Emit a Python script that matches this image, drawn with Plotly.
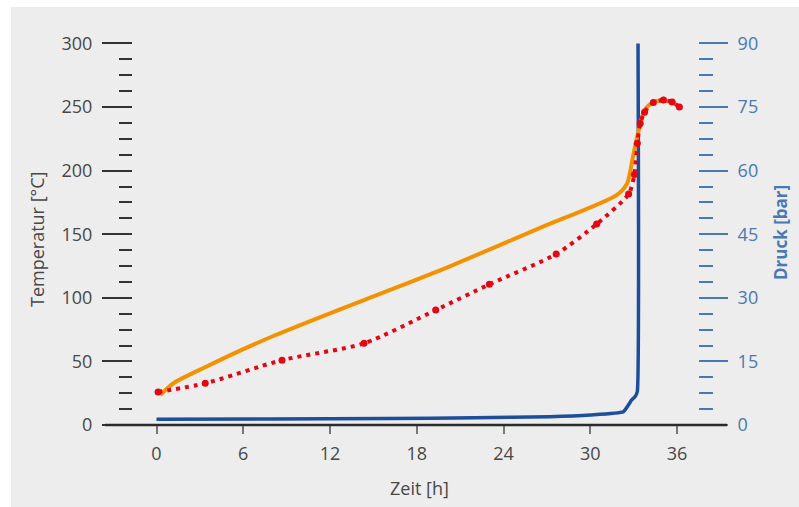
import plotly.graph_objects as go

# Time axis [h]
x_ticks = [0, 6, 12, 18, 24, 30, 36]
temp_ticks = [0, 50, 100, 150, 200, 250, 300]
press_ticks = [0, 15, 30, 45, 60, 75, 90]

# Temperature, solid orange curve
t_orange = [0.26, 1.16, 3.47, 5.78, 8.08, 12.70, 16.11, 20.12, 26.53, 31.85,
            32.55, 32.95, 33.35, 33.75, 34.36, 35.06, 35.66, 36.16]
temp_orange = [23.6, 32.8, 46.0, 58.5, 70.0, 91.0, 106.0, 124.0, 155.0, 181.0,
               190.0, 211.0, 232.0, 247.6, 254.0, 255.0, 253.7, 250.0]

# Temperature, dotted red curve (measured points)
t_red = [0.11, 3.37, 8.68, 14.35, 19.31, 23.02, 27.64, 30.44, 32.65, 33.05,
         33.25, 33.45, 33.75, 34.36, 35.06, 35.66, 36.16]
temp_red = [26.0, 32.8, 51.0, 64.2, 90.4, 110.6, 134.4, 158.0, 181.6, 197.0,
            221.5, 237.0, 246.0, 253.5, 255.5, 254.0, 250.0]

# Pressure [bar]
t_press = [0.0, 8.0, 16.0, 22.0, 27.2, 30.0, 32.28, 32.86, 33.10, 33.25, 33.30]
pressure = [1.35, 1.4, 1.55, 1.7, 1.95, 2.35, 3.1, 5.9, 6.7, 7.9, 90.0]

ORANGE = "#f39200"
RED = "#e30613"
BLUE = "#1d4e9a"
AXIS_BLUE = "#4a78b4"
TEXT = "#484848"
BG = "#ededed"
FONT = "Open Sans"

W, H = 799, 507
ML, MR, MT, MB = 133, 101, 40, 82
PW, PH = W - ML - MR, H - MT - MB

T_MAX = PH / 1.2717
X_MIN = -23.5 / 14.46
X_MAX = (PW - 23.5) / 14.46


def px_x(px):
    return (px - ML) / PW


def px_y(py):
    return (H - MB - py) / PH


fig = go.Figure()

# pressure sits on the primary (right-hand) axis so it is drawn underneath
fig.add_trace(go.Scatter(
    x=t_press, y=pressure, mode="lines", yaxis="y",
    line=dict(color=BLUE, width=3.5, shape="spline", smoothing=0.4),
    showlegend=False, hoverinfo="skip"))

fig.add_trace(go.Scatter(
    x=t_orange, y=temp_orange, mode="lines", yaxis="y2",
    line=dict(color=ORANGE, width=4, shape="spline", smoothing=0.7),
    showlegend=False, hoverinfo="skip"))

fig.add_trace(go.Scatter(
    x=t_red, y=temp_red, mode="lines+markers", yaxis="y2",
    line=dict(color=RED, width=4, dash="4px,5px", shape="spline", smoothing=0.7),
    marker=dict(color=RED, size=7), showlegend=False, hoverinfo="skip"))

fig.update_layout(
    width=W, height=H,
    margin=dict(l=ML, r=MR, t=MT, b=MB, autoexpand=False),
    paper_bgcolor="white", plot_bgcolor=BG,
    font=dict(family=FONT, size=18, color=TEXT),
    xaxis=dict(
        range=[X_MIN, X_MAX], tickvals=x_ticks,
        showgrid=False, zeroline=False, showline=False,
        ticks="outside", ticklen=8, tickwidth=2, tickcolor="#777777",
        ticklabelstandoff=4,
        tickfont=dict(family=FONT, size=18, color=TEXT),
    ),
    yaxis=dict(
        side="right", range=[0, T_MAX * 0.3], tickvals=press_ticks,
        showgrid=False, zeroline=False, showline=False,
        ticks="outside", ticklen=29, tickwidth=2, tickcolor=AXIS_BLUE,
        minor=dict(dtick=3.75, ticks="outside", ticklen=14, tickwidth=2,
                   tickcolor=AXIS_BLUE, showgrid=False),
        ticklabelstandoff=6,
        tickfont=dict(family=FONT, size=18, color=AXIS_BLUE),
    ),
    yaxis2=dict(
        side="left", overlaying="y", range=[0, T_MAX], tickvals=temp_ticks,
        showgrid=False, zeroline=False, showline=False,
        ticks="outside", ticklen=30, tickwidth=2, tickcolor="#333333",
        minor=dict(dtick=12.5, ticks="outside", ticklen=13, tickwidth=2,
                   tickcolor="#333333", showgrid=False),
        ticklabelstandoff=6,
        tickfont=dict(family=FONT, size=18, color=TEXT),
    ),
    shapes=[
        # grey panel behind the chart
        dict(type="rect", xref="paper", yref="paper", layer="below",
             x0=px_x(11), x1=px_x(W + 5), y0=px_y(H + 5), y1=px_y(7),
             fillcolor=BG, line=dict(width=0)),
        # time axis line spanning both value axes
        dict(type="line", xref="paper", yref="paper",
             x0=px_x(105), x1=px_x(727), y0=0, y1=0,
             line=dict(color="#2b2b2b", width=2.5)),
    ],
    annotations=[
        dict(text="Temperatur [°C]", xref="paper", yref="paper",
             x=px_x(37), y=px_y(240), textangle=-90, showarrow=False,
             xanchor="center", yanchor="middle",
             font=dict(family=FONT, size=18, color=TEXT)),
        dict(text="<b>Druck [bar]</b>", xref="paper", yref="paper",
             x=px_x(780), y=px_y(233), textangle=-90, showarrow=False,
             xanchor="center", yanchor="middle",
             font=dict(family=FONT, size=17, color=AXIS_BLUE)),
        dict(text="Zeit [h]", xref="paper", yref="paper",
             x=px_x(419), y=px_y(488), showarrow=False,
             xanchor="center", yanchor="middle",
             font=dict(family=FONT, size=18, color=TEXT)),
    ],
)

fig.write_html("out.html")
